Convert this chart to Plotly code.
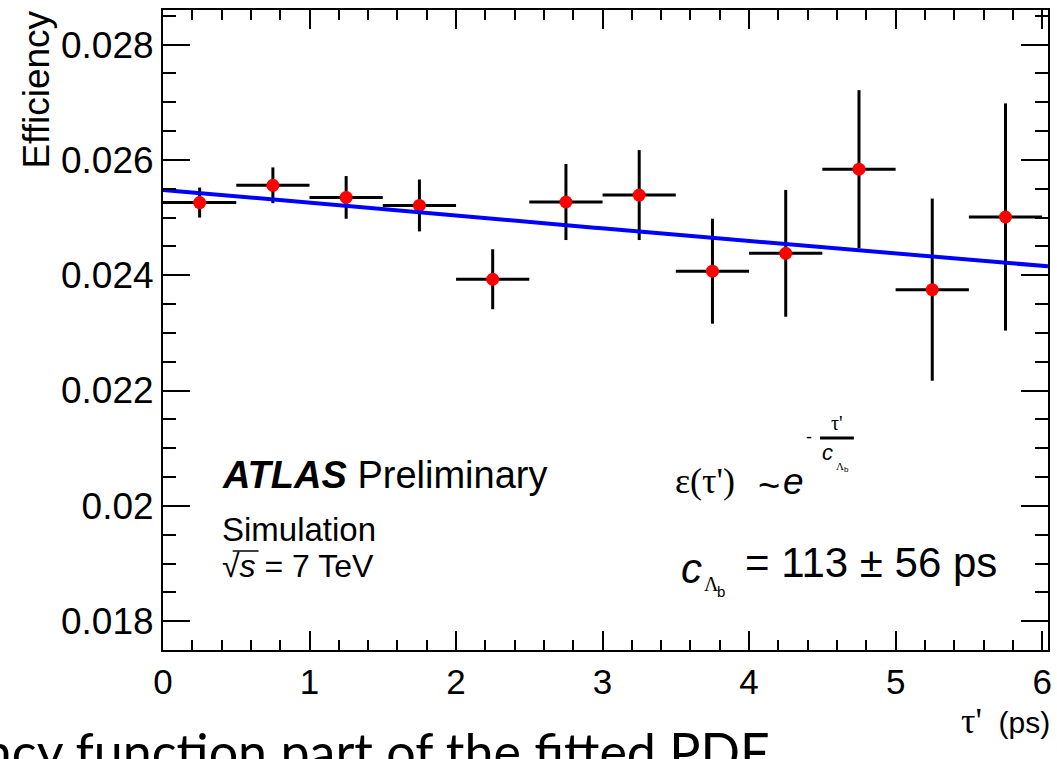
import numpy as np
import plotly.graph_objects as go

# Binned efficiency vs. proper decay time (bins of 0.5 ps)
tau_ps = [0.25, 0.75, 1.25, 1.75, 2.25, 2.75, 3.25, 3.75, 4.25, 4.75, 5.25, 5.75]
bin_half_width = 0.25
efficiency = [0.02526, 0.02556, 0.02535, 0.02521, 0.02393, 0.02527,
              0.02539, 0.02407, 0.02438, 0.02584, 0.02375, 0.02501]
efficiency_err = [0.00026, 0.00031, 0.00037, 0.00045, 0.00052, 0.00066,
                  0.00078, 0.00091, 0.00110, 0.00137, 0.00158, 0.00197]

# Exponential fit: eps(tau') ~ A * exp(-tau' / c_Lambda_b)
fit_amplitude = 0.02548
fit_c_lambda_b = 113.0
fit_c_lambda_b_err = 56.0

x_range = [0.0, 6.04]
y_range = [0.0175, 0.0286]

x_tickvals = [0, 1, 2, 3, 4, 5, 6]
x_ticktext = ["0", "1", "2", "3", "4", "5", "6"]
y_tickvals = [0.018, 0.020, 0.022, 0.024, 0.026, 0.028]
y_ticktext = ["0.018", "0.02", "0.022", "0.024", "0.026", "0.028"]

W, H = 1057, 759
PLOT_L, PLOT_R, PLOT_T, PLOT_B = 163, 1052, 10, 650

SANS = "Liberation Sans, Arial, Helvetica, sans-serif"
SERIF = "Liberation Serif, Times New Roman, serif"


def px(x):
    return (x - PLOT_L) / (PLOT_R - PLOT_L)


def py(y):
    return (PLOT_B - y) / (PLOT_B - PLOT_T)


fig = go.Figure()

# error crosses
fig.add_trace(go.Scatter(
    x=tau_ps, y=efficiency, mode="markers",
    marker=dict(size=0.1, color="rgba(0,0,0,0)"),
    error_x=dict(type="constant", value=bin_half_width, color="black", thickness=3, width=0),
    error_y=dict(type="data", array=efficiency_err, color="black", thickness=3, width=0),
    showlegend=False, hoverinfo="skip",
))

# data points
fig.add_trace(go.Scatter(
    x=tau_ps, y=efficiency, mode="markers",
    marker=dict(size=13, color="rgb(255,0,0)"),
    showlegend=False,
))

# fit curve
fit_x = np.linspace(x_range[0], x_range[1], 200)
fit_y = fit_amplitude * np.exp(-fit_x / fit_c_lambda_b)
fig.add_trace(go.Scatter(
    x=fit_x, y=fit_y, mode="lines",
    line=dict(color="rgb(0,0,255)", width=4),
    showlegend=False,
))

axis_common = dict(
    showgrid=False, zeroline=False, showline=True, linecolor="black", linewidth=2,
    ticks="inside", mirror="allticks", tickcolor="black", tickwidth=2,
)

fig.update_xaxes(
    range=x_range, tickvals=x_tickvals, ticktext=x_ticktext, ticklen=19,
    tickfont=dict(family=SANS, size=35, color="black"),
    minor=dict(dtick=0.2, tick0=0, ticks="inside", ticklen=10, tickcolor="black", tickwidth=2),
    **axis_common,
)
fig.update_yaxes(
    range=y_range, tickvals=y_tickvals, ticktext=y_ticktext, ticklen=27,
    tickfont=dict(family=SANS, size=37, color="black"),
    minor=dict(dtick=0.0005, tick0=0.018, ticks="inside", ticklen=13, tickcolor="black", tickwidth=2),
    **axis_common,
)

annotations = []


def add_text(text, x, y, size, xanchor="left", yanchor="middle", family=SANS, angle=0):
    annotations.append(dict(
        text=text, x=px(x), y=py(y), xref="paper", yref="paper",
        xanchor=xanchor, yanchor=yanchor, showarrow=False, textangle=angle,
        font=dict(family=family, size=size, color="black"),
    ))


def greek(s, size=None):
    style = f"font-family:{SERIF}"
    if size:
        style += f";font-size:{size}px"
    return f'<span style="{style}">{s}</span>'


# axis titles
add_text("Efficiency", 35, 9, 37, xanchor="center", yanchor="top", angle=-90)
add_text(greek("τ'", 36) + "\u00a0\u00a0(ps)", 1056, 721, 30, xanchor="right")

# ATLAS label
add_text("<b><i>ATLAS</i></b> Preliminary", 220, 475, 38)
add_text("Simulation", 220, 529, 33)
add_text("√<i>s</i> = 7 TeV", 220, 566, 32)

# fit function
add_text(greek("ε(τ')"), 675, 481, 36)
add_text("~", 772, 486, 38, xanchor="center")
add_text("<i>e</i>", 784, 481, 37)
add_text("-", 807, 437, 18)
add_text(greek("τ'"), 840, 423, 20, xanchor="center")
add_text("<i>c</i>", 823, 452, 22)
add_text(greek("Λ"), 837, 466, 11)
add_text("b", 845, 469, 8)

# fit result
fit_label = f"= {fit_c_lambda_b:.0f} ± {fit_c_lambda_b_err:.0f} ps"
add_text("<i>c</i>", 681, 568, 42)
add_text(greek("Λ"), 704, 584, 20)
add_text("b", 717, 591, 15)
add_text(fit_label, 746, 562, 42)

# caption
annotations.append(dict(
    text="Efficiency function part of the fitted PDF",
    x=px(774), y=py(751), xref="paper", yref="paper",
    xanchor="right", yanchor="middle", showarrow=False,
    font=dict(family="Lato, Open Sans, sans-serif", size=52, color="black"),
))

shapes = [
    # fraction bar in the exponent
    dict(type="line", xref="paper", yref="paper",
         x0=px(823), x1=px(857), y0=py(438), y1=py(438),
         line=dict(color="black", width=3)),
    # square-root vinculum
    dict(type="line", xref="paper", yref="paper",
         x0=px(233), x1=px(259), y0=py(551), y1=py(551),
         line=dict(color="black", width=1.5)),
]

fig.update_layout(
    width=W, height=H,
    margin=dict(l=PLOT_L, r=W - PLOT_R, t=PLOT_T, b=H - PLOT_B),
    paper_bgcolor="white", plot_bgcolor="white",
    annotations=annotations, shapes=shapes,
    showlegend=False,
)

fig.write_html("out.html")
